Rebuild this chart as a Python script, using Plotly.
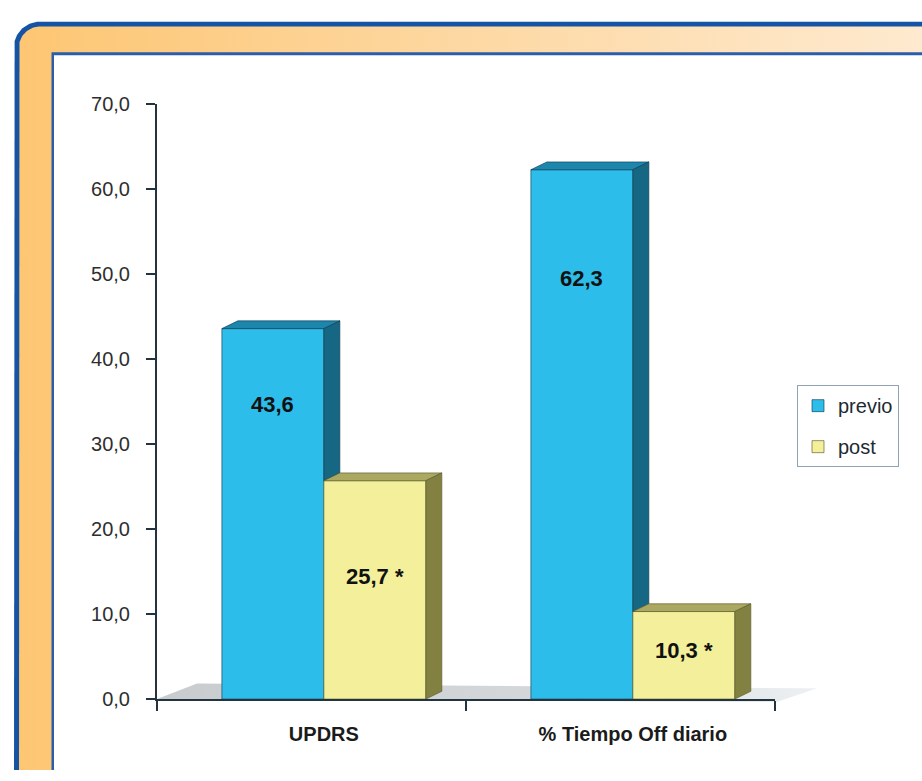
import numpy as np
import plotly.graph_objects as go

# ---------------- data ----------------
categories = ["UPDRS", "% Tiempo Off diario"]
series_names = ["previo", "post"]
previo = [43.6, 62.3]
post = [25.7, 10.3]
signif_marks = ["", " *"]          # per series
y_tick_values = [0, 10, 20, 30, 40, 50, 60, 70]
y_tick_labels = [f"{v:.1f}".replace(".", ",") for v in y_tick_values]

# ---------------- style ----------------
W, H = 922, 781
FONT = "Arial, Liberation Sans, sans-serif"
PX_L, PX_R, PX_T, PX_B = 157, 775, 96, 708
XR = [-0.54, 1.46]
YR = [0, 70]
ux = (PX_R - PX_L) / (XR[1] - XR[0])
uy = (PX_B - PX_T) / (YR[1] - YR[0])
DX, DY = 16 / ux, 8 / uy
BARGAP = 0.34
BW = (1 - BARGAP) / 2
front_cols = ["#2DBDEA", "#F3EF9B"]
top_cols = ["#1C86AD", "#ABA862"]
side_cols = ["#166783", "#838142"]
edge_cols = ["rgba(15,60,80,0.8)", "rgba(90,90,40,0.8)"]
label_frac = [0.795, 0.56]
AXC = "#22343f"

fig = go.Figure()

# ---------------- frame (pixel coordinates, subplot xy) ----------------
def rounded_rect(x0, y0, r, x1, y1):
    t = np.linspace(0, np.pi / 2, 30)
    cx, cy = x0 + r, y0 + r
    ax = cx - r * np.cos(t)
    ay = cy - r * np.sin(t)
    xs = [x0] + list(ax) + [x1, x1, x0]
    ys = [y1] + list(ay) + [y0, y1, y1]
    return xs, ys

def poly(xs, ys, **kw):
    fig.add_trace(go.Scatter(x=xs, y=ys, mode="lines", fill="toself",
                             hoverinfo="skip", showlegend=False, **kw))

xs, ys = rounded_rect(14, 11, 26, 960, 820)
poly(xs, ys, fillcolor="#1553A5", line=dict(width=0), xaxis="x", yaxis="y")
xs, ys = rounded_rect(19, 16, 21, 960, 820)
poly(xs, ys, fillcolor="#FDC774", line=dict(width=0), xaxis="x", yaxis="y",
     fillgradient=dict(type="horizontal",
                       colorscale=[[0, "#FDC673"], [0.45, "#FDD7A0"], [1, "#FEEBD3"]]))
poly([51.5, 51.5, 960, 960, 51.5], [820, 42.5, 42.5, 820, 820],
     fillcolor="#2B5DA8", line=dict(width=0), xaxis="x", yaxis="y")
poly([54, 54, 960, 960, 54], [820, 45.5, 45.5, 820, 820],
     fillcolor="#FFFFFF", line=dict(width=0), xaxis="x", yaxis="y")
# floor
poly([157, 197, 817, 777, 157], [708, 692, 697, 711, 708],
     fillcolor="#D3D6D9", line=dict(width=0), xaxis="x", yaxis="y",
     fillgradient=dict(type="horizontal",
                       colorscale=[[0, "#C9CCCF"], [0.7, "#D7DADD"], [1, "#EEF1F4"]]))

# ---------------- bars (front faces) ----------------
vals = [previo, post]
xc = list(range(len(categories)))
for s, name in enumerate(series_names):
    fig.add_trace(go.Bar(x=xc, y=vals[s], name=name, legendgroup=name,
                         marker=dict(color=front_cols[s],
                                     line=dict(color=edge_cols[s], width=0.8)),
                         xaxis="x2", yaxis="y2", hoverinfo="skip"))

# ---------------- 3D faces ----------------
for i, c in enumerate(xc):
    cat_vals = [vals[s][i] for s in range(len(series_names))]
    for s in range(len(series_names)):
        v = cat_vals[s]
        x0 = c - BW + s * BW
        x1 = x0 + BW
        lower = cat_vals[s + 1] if s + 1 < len(cat_vals) else 0
        lower = min(lower, v)
        poly([x0, x0 + DX, x1 + DX, x1, x0], [v, v + DY, v + DY, v, v],
             fillcolor=top_cols[s], line=dict(color=edge_cols[s], width=0.8),
             xaxis="x2", yaxis="y2")
        poly([x1, x1, x1 + DX, x1 + DX, x1], [lower, v, v + DY, lower + DY, lower],
             fillcolor=side_cols[s], line=dict(color=edge_cols[s], width=0.8),
             xaxis="x2", yaxis="y2")

# ---------------- value labels ----------------
annotations = []
for i, c in enumerate(xc):
    for s in range(len(series_names)):
        v = vals[s][i]
        xm = c - BW + s * BW + BW / 2
        annotations.append(dict(
            x=xm, y=v * label_frac[s], xref="x2", yref="y2", showarrow=False,
            text=f"{v:.1f}".replace(".", ",") + signif_marks[s],
            font=dict(family=FONT, size=22, color="#111111", weight="bold")))

fig.update_layout(
    width=W, height=H,
    margin=dict(l=0, r=0, t=0, b=0),
    paper_bgcolor="white",
    plot_bgcolor="rgba(0,0,0,0)",
    barmode="group", bargap=BARGAP, bargroupgap=0,
    showlegend=True,
    legend=dict(x=797 / W, y=1 - 385 / H, xanchor="left", yanchor="top",
                bgcolor="white", bordercolor="#8FA3B5", borderwidth=1,
                font=dict(family=FONT, size=20, color="#1d2a33"),
                tracegroupgap=12, itemwidth=30),
    xaxis=dict(domain=[0, 1], range=[0, W], visible=False, fixedrange=True),
    yaxis=dict(domain=[0, 1], range=[H, 0], visible=False, fixedrange=True),
    xaxis2=dict(domain=[PX_L / W, PX_R / W], range=XR, anchor="y2",
                showgrid=False, zeroline=False, showline=True, linewidth=2,
                linecolor=AXC, tickmode="array", tickvals=xc, ticktext=categories,
                ticks="", ticklabelstandoff=16,
                tickfont=dict(family=FONT, size=20, color="#1b1b1b", weight="bold"),
                minor=dict(tickmode="array", tickvals=[XR[0], XR[0] + 1, XR[0] + 2],
                           ticks="outside", ticklen=10, tickwidth=2, tickcolor=AXC)),
    yaxis2=dict(domain=[(H - PX_B) / H, (H - PX_T) / H], range=YR, anchor="x2",
                showgrid=False, zeroline=False, showline=True, linewidth=2,
                linecolor=AXC, tickmode="array", tickvals=y_tick_values,
                ticktext=y_tick_labels, ticks="outside", ticklen=9, tickwidth=2,
                tickcolor=AXC, ticklabelstandoff=12,
                tickfont=dict(family=FONT, size=20, color="#2e2e2e")),
    annotations=annotations,
)

fig.write_html("out.html")
